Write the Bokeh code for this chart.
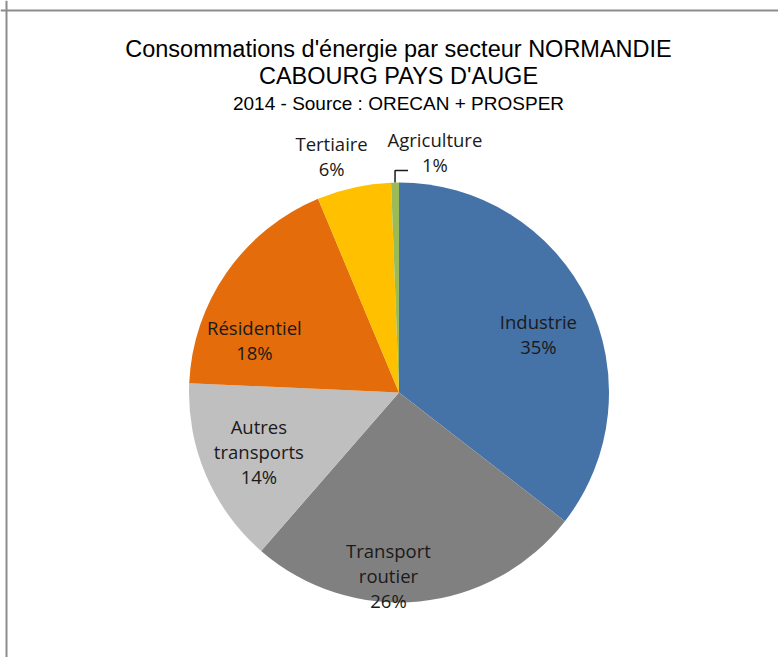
import math
from bokeh.plotting import figure
from bokeh.models import Range1d, Span, ColumnDataSource
from bokeh.core.properties import value
from bokeh.embed import file_html
from bokeh.resources import INLINE

# ---- data ----
sectors = ["Industrie", "Transport routier", "Autres transports", "Résidentiel", "Tertiaire", "Agriculture"]
shares = [35.5, 25.9, 14.3, 18.0, 5.7, 0.6]
pct_labels = ["35%", "26%", "14%", "18%", "6%", "1%"]
label_names = ["Industrie", "Transport\nroutier", "Autres\ntransports", "Résidentiel", "Tertiaire", "Agriculture"]
colors = ["#4572A7", "#808080", "#BFBFBF", "#E46C0A", "#FFC000", "#9BBB59"]
title_lines = ["Consommations d'énergie par secteur NORMANDIE", "CABOURG PAYS D'AUGE"]
subtitle = "2014 - Source : ORECAN + PROSPER"

# ---- layout ----
W, H = 778, 657
CX, CY, R = 398.5, 265, 210
# label placement: polar (angle from 12 o'clock clockwise, in degrees; distance in px)
label_polar = [(67.4, 151), (183.3, 183), (247.2, 152), (290.1, 154), (344.1, 246), (8.5, 243)]

p = figure(width=W, height=H, x_range=Range1d(0, W), y_range=Range1d(0, H),
           output_backend="svg", toolbar_location=None, min_border=0,
           background_fill_color="white", border_fill_color="white")
p.axis.visible = False
p.grid.visible = False
p.outline_line_color = None

total = sum(shares)
starts, ends = [], []
cum = 0.0
for s in shares:
    a1 = cum / total * 2 * math.pi
    cum += s
    a2 = cum / total * 2 * math.pi
    starts.append(math.pi / 2 - a1)
    ends.append(math.pi / 2 - a2)

src = ColumnDataSource(dict(start=starts, end=ends, color=colors, name=sectors))
p.wedge(x=CX, y=CY, radius=R, start_angle="start", end_angle="end", direction="clock",
        fill_color="color", line_color=None, source=src)

# labels
lx, ly, lt = [], [], []
for (ang, dist), nm, pc in zip(label_polar, label_names, pct_labels):
    a = math.radians(ang)
    lx.append(CX + dist * math.sin(a))
    ly.append(CY + dist * math.cos(a))
    lt.append(nm + "\n" + pc)
p.text(x=lx, y=ly, text=lt, text_font=value("Open Sans"), text_font_size="18.5px",
       text_color="#1a1a1a", text_align="center", text_baseline="middle",
       text_line_height=1.0)

# leader line for Agriculture
c_start = sum(shares[:-1]) / total * 2 * math.pi
c_mid = (c_start + 2 * math.pi) / 2
ex = CX + R * math.sin(c_mid)
ey = CY + R * math.cos(c_mid)
p.line(x=[ex, ex, ex + 13], y=[ey, ey + 12, ey + 12], line_color="#1a1a1a", line_width=1.5)

# titles
p.text(x=[398, 398], y=[609, 582], text=title_lines, text_font=value("Liberation Sans"),
       text_font_size="23.5px", text_color="black", text_align="center", text_baseline="alphabetic")
p.text(x=[398], y=[554], text=[subtitle], text_font=value("Liberation Sans"),
       text_font_size="19px", text_color="black", text_align="center", text_baseline="alphabetic")

# chart-area border (top and left edges visible)
p.add_layout(Span(location=H - 10, dimension="width", line_color="#8c8c8c", line_width=2))
p.add_layout(Span(location=6, dimension="height", line_color="#8c8c8c", line_width=2))

open("out.html", "w").write(file_html(p, INLINE))
